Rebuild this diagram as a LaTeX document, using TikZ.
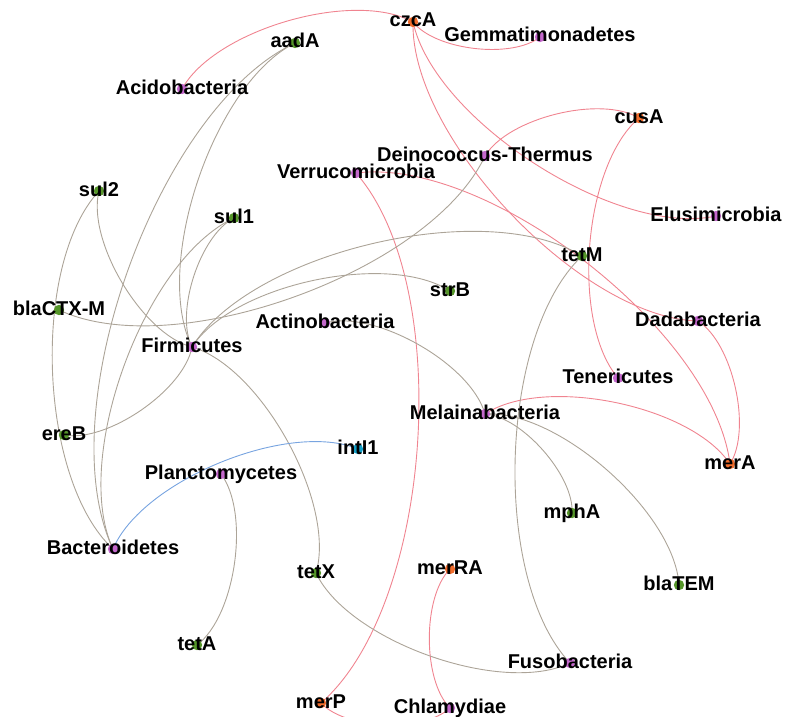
\documentclass[tikz,border=0pt]{standalone}
\usepackage{fontspec}
\setmainfont{Liberation Sans}
\definecolor{phylum}{RGB}{196,104,204}
\definecolor{arg}{RGB}{86,150,42}
\definecolor{mrg}{RGB}{240,108,44}
\definecolor{mge}{RGB}{20,160,200}
\definecolor{greyedge}{RGB}{172,164,152}
\definecolor{pinkedge}{RGB}{240,132,144}
\definecolor{blueedge}{RGB}{120,164,224}
\begin{document}
\begin{tikzpicture}[x=1pt,y=-1pt,
		link/.style={line width=0.9pt,bend left=45,looseness=0.72},
		lbl/.style={anchor=base,inner sep=0pt,font=\fontsize{20}{24}\selectfont\bfseries}]
		\useasboundingbox (0,0) rectangle (790,717);
		\clip (0,0) rectangle (790,717);
		\path
		(413,22) coordinate (czcA)
		(540,37) coordinate (Gem)
		(295,43) coordinate (aadA)
		(182,89) coordinate (Aci)
		(639,118) coordinate (cusA)
		(485,156) coordinate (Dei)
		(356,173) coordinate (Ver)
		(99,191) coordinate (sul2)
		(234,218) coordinate (sul1)
		(716,216) coordinate (Elu)
		(582,256) coordinate (tetM)
		(450,291) coordinate (strB)
		(59,310) coordinate (CTX)
		(325,323) coordinate (Act)
		(698,321) coordinate (Dad)
		(192,347) coordinate (Fir)
		(618,378) coordinate (Ten)
		(485,414) coordinate (Mel)
		(64,435) coordinate (ereB)
		(358,449) coordinate (intI)
		(730,464) coordinate (merA)
		(221,474) coordinate (Pla)
		(572,513) coordinate (mphA)
		(113,549) coordinate (Bac)
		(450,569) coordinate (merRA)
		(316,573) coordinate (tetX)
		(679,585) coordinate (TEM)
		(197,645) coordinate (tetA)
		(570,663) coordinate (Fus)
		(321,703) coordinate (merP)
		(450,708) coordinate (Chl);
		\foreach \a/\b in {Aci/czcA,Gem/czcA,Elu/czcA,Dad/czcA,Ver/merA,Ver/merP,Dei/cusA,Ten/cusA,Dad/merA,Mel/merA,Chl/merRA,Chl/merP}
		\draw[link,pinkedge] (\a) to (\b);
		\foreach \a/\b in {Bac/aadA,Fir/aadA,Bac/sul2,Fir/sul2,Bac/sul1,Fir/sul1,Fir/ereB,Fir/tetX,Fir/strB,Fir/tetM,Dei/CTX,Act/Mel,Mel/mphA,Mel/TEM,Fus/tetM,Fus/tetX,Pla/tetA}
		\draw[link,greyedge] (\a) to (\b);
		\draw[link,blueedge] (Bac) to (intI);
		\foreach \p/\c/\t in {czcA/mrg/czcA,Gem/phylum/Gemmatimonadetes,aadA/arg/aadA,Aci/phylum/Acidobacteria,cusA/mrg/cusA,Dei/phylum/Deinococcus-Thermus,Ver/phylum/Verrucomicrobia,sul2/arg/sul2,sul1/arg/sul1,Elu/phylum/Elusimicrobia,tetM/arg/tetM,strB/arg/strB,CTX/arg/blaCTX-M,Act/phylum/Actinobacteria,Dad/phylum/Dadabacteria,Fir/phylum/Firmicutes,Ten/phylum/Tenericutes,Mel/phylum/Melainabacteria,ereB/arg/ereB,intI/mge/intI1,merA/mrg/merA,Pla/phylum/Planctomycetes,mphA/arg/mphA,Bac/phylum/Bacteroidetes,merRA/mrg/merRA,tetX/arg/tetX,TEM/arg/blaTEM,tetA/arg/tetA,Fus/phylum/Fusobacteria,merP/mrg/merP,Chl/phylum/Chlamydiae}
		{\fill[\c] (\p) circle (5.2);
		\node[lbl] (\p-t) at ([yshift=-5pt]\p) {\t};}
	\end{tikzpicture}
\end{document}
